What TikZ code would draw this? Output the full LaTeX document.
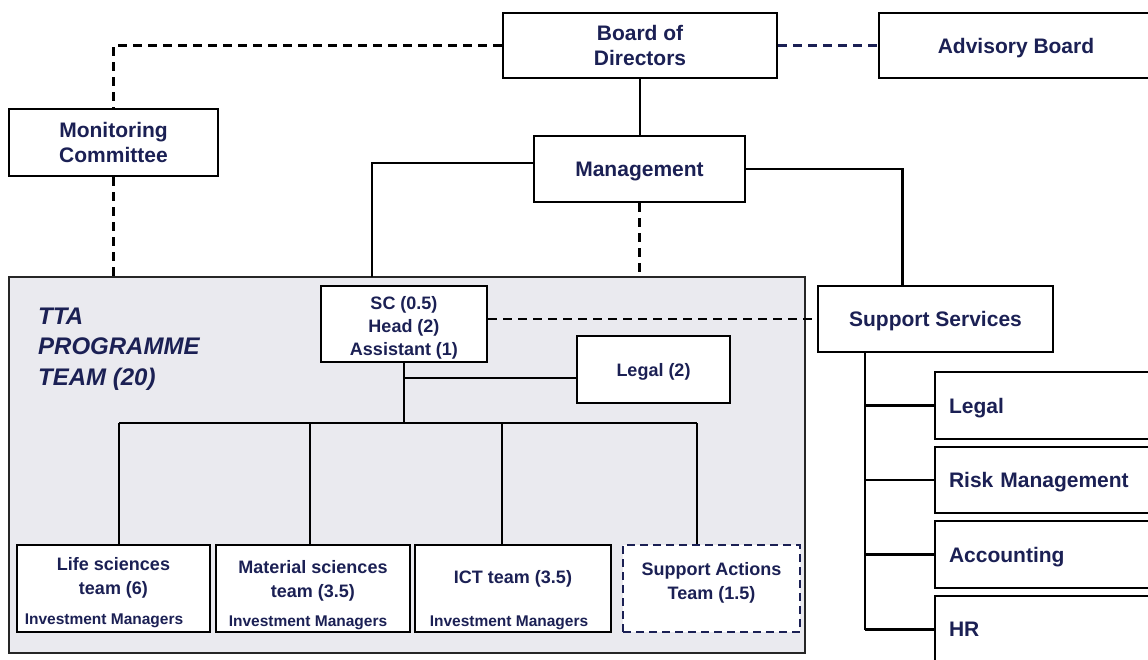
\documentclass[tikz,border=0pt]{standalone}
\usepackage{fontspec}
\setmainfont{Liberation Sans}
\definecolor{navy}{RGB}{27,32,84}
\definecolor{panel}{RGB}{234,234,239}
\tikzset{
  box/.style={draw=black, line width=2.3pt, fill=white, text=navy, inner sep=0pt,
    align=center, font=\bfseries\fontsize{21}{25}\selectfont},
  onebox/.style={box, text depth=0pt},
  smallbox/.style={box, font=\bfseries\fontsize{18}{23}\selectfont},
  rbox/.style={onebox, align=left, text width=197pt},
  btext/.style={text=navy, inner sep=0pt, align=center, font=\bfseries\fontsize{18}{24}\selectfont},
  sctext/.style={btext, font=\bfseries\fontsize{18}{23}\selectfont},
  imtext/.style={text=navy, inner sep=0pt, font=\bfseries\fontsize{15.5}{18}\selectfont},
  link/.style={draw=black, line width=2.2pt},
  dlink/.style={link, dash pattern=on 9pt off 6pt},
}
\begin{document}
\begin{tikzpicture}[x=1pt,y=1pt]
  \useasboundingbox (0,0) rectangle (1148,-659);
  \fill[white] (0,0) rectangle (1148,-659);
  \clip (0,0) rectangle (1148,-659);

  % top level
  \node[box, minimum width=274, minimum height=65] (bod) at (640,-45.5) {Board of\\Directors};
  \node[onebox, minimum width=274, minimum height=65] (adv) at (1016,-45.5) {Advisory Board};
  \node[box, minimum width=209, minimum height=67] (mon) at (113.5,-142.5) {Monitoring\\Committee};
  \node[onebox, minimum width=211, minimum height=66] (mgmt) at (639.5,-169) {Management};

  % programme team panel
  \node[draw=black!85, line width=2pt, fill=panel, minimum width=796, minimum height=376, inner sep=0pt]
    (tta) at (407,-465) {};
  \node[anchor=north west, align=left, inner sep=0pt, text=navy,
    font=\bfseries\itshape\fontsize{24}{30.5}\selectfont] (ttatitle) at (38,-307.5)
    {TTA\\PROGRAMME\\TEAM (20)};

  \node[smallbox, minimum width=166, minimum height=76] (sc) at (404,-324) {};
  \node[sctext] (sctxt) at ([yshift=-4]sc.center) {SC (0.5)\\Head (2)\\Assistant (1)};
  \node[smallbox, text depth=0pt, minimum width=153, minimum height=67] (leg2) at (653.5,-369.5) {Legal (2)};

  % team boxes
  \node[box, minimum width=193, minimum height=87] (ls) at (113.5,-588.5) {};
  \node[box, minimum width=194, minimum height=87] (ms) at (313,-588.5) {};
  \node[box, minimum width=196, minimum height=87] (ict) at (513,-588.5) {};
  \node[box, draw=navy, dash pattern=on 8pt off 5pt, minimum width=177, minimum height=87] (sat) at (711.5,-588.5) {};

  \node[btext] (lstxt) at ([yshift=11]ls.center) {Life sciences\\team (6)};
  \node[btext] (mstxt) at ([yshift=8]ms.center) {Material sciences\\team (3.5)};
  \node[btext] (icttxt) at ([yshift=9.5]ict.center) {ICT team (3.5)};
  \node[btext] (sattxt) at ([yshift=5.5]sat.center) {Support Actions\\Team (1.5)};

  \node[imtext, anchor=base] (lsim) at ([shift={(-9.5,8.5)}]ls.south) {Investment Managers};
  \node[imtext, anchor=base] (msim) at ([shift={(-5,6.5)}]ms.south) {Investment Managers};
  \node[imtext, anchor=base] (ictim) at ([shift={(-4,6.5)}]ict.south) {Investment Managers};

  % support services
  \node[onebox, minimum width=235, minimum height=66] (ss) at (935.5,-319) {Support Services};
  \node[rbox, minimum width=225, minimum height=67] (rl) at (1047.5,-405.5) {Legal};
  \node[rbox, minimum width=225, minimum height=66] (rm) at (1047.5,-480) {Risk Management};
  \node[rbox, minimum width=225, minimum height=67] (ra) at (1047.5,-554.5) {Accounting};
  \node[rbox, minimum width=225, minimum height=67] (rh) at (1047.5,-629.5) {HR};

  % governance links
  \draw[dlink] (bod.west) -| (mon.north);
  \draw[dlink] (mon.south) -- (mon.south |- tta.north);
  \draw[dlink, draw=navy] (bod.east) -- (adv.west);
  \draw[link] (bod.south) -- (bod.south |- mgmt.north);
  \coordinate (tl) at (372,-277);
  \draw[link] ([yshift=6]mgmt.west) -| (tl);
  \draw[link] (mgmt.east) -| ([xshift=-33]ss.north);
  \draw[dlink] (mgmt.south) -- (mgmt.south |- tta.north);
  \draw[dlink] (sc.east |- ss.west) -- (ss.west);

  % programme team tree
  \coordinate (hub) at (404,-423);
  \coordinate (lj) at (404,-378);
  \draw[link] (sc.south) -- (hub);
  \draw[link] (lj) -- (lj -| leg2.west);
  \coordinate (b1) at (119,-423);
  \coordinate (b2) at (310,-423);
  \coordinate (b3) at (502,-423);
  \coordinate (b4) at (697,-423);
  \draw[link] (b1) -- (b4);
  \draw[link] (b1) -- (b1 |- ls.north);
  \draw[link] (b2) -- (b2 |- ms.north);
  \draw[link] (b3) -- (b3 |- ict.north);
  \draw[link] (b4) -- (b4 |- sat.north);

  % support services tree
  \coordinate (sv) at ([xshift=-70.5]ss.south);
  \draw[link] (sv) -- (sv |- rh.west);
  \draw[link, line width=3pt] (sv |- rl.west) -- (rl.west);
  \draw[link] (sv |- rm.west) -- (rm.west);
  \draw[link] (sv |- ra.west) -- (ra.west);
  \draw[link] (sv |- rh.west) -- (rh.west);
\end{tikzpicture}
\end{document}
